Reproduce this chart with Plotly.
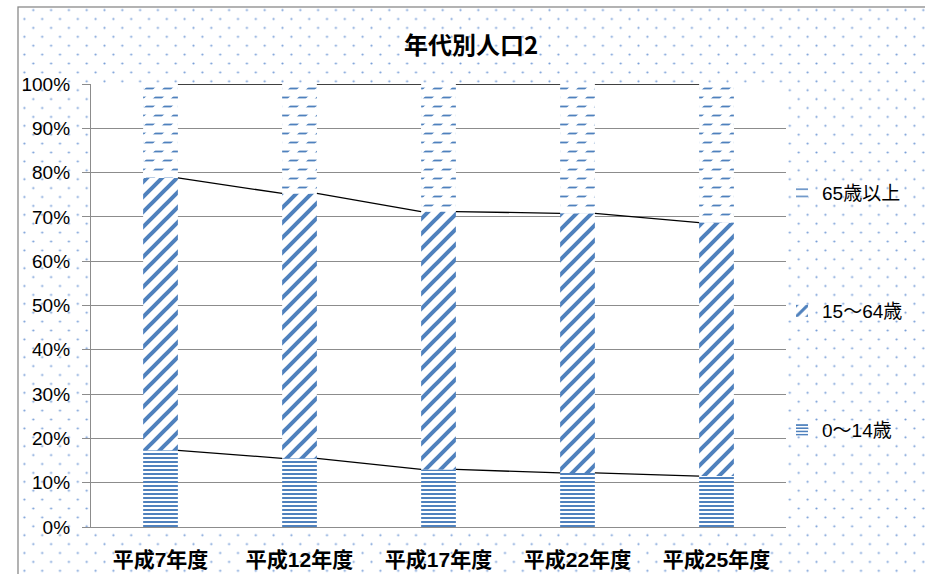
import base64
import math
import plotly.graph_objects as go

# ---- data -------------------------------------------------------------
years = ["平成7年度", "平成12年度", "平成17年度", "平成22年度", "平成25年度"]
series_names = ["0～14歳", "15～64歳", "65歳以上"]
age_0_14 = [0.173, 0.155, 0.130, 0.122, 0.115]
age_15_64 = [0.615, 0.598, 0.582, 0.586, 0.572]
age_65_up = [0.212, 0.247, 0.288, 0.292, 0.313]
y_ticks = [0.0, 0.1, 0.2, 0.3, 0.4, 0.5, 0.6, 0.7, 0.8, 0.9, 1.0]

# ---- geometry / style ------------------------------------------------
W, H = 925, 574
ML, MR, MT, MB = 91, 139, 84, 47
PW, PH = W - ML - MR, H - MT - MB
BARGAP = 0.75
BLUE = "#4f81bd"
GRID = "#8c8c8c"
FONT = "Liberation Sans, Noto Sans CJK JP, sans-serif"


def px_x(px):
    return (px - ML) / PW


def px_y(py):
    return (H - MB - py) / PH


# dotted chart-area background with its grey frame
bg_svg = f"""<svg xmlns='http://www.w3.org/2000/svg' width='{W}' height='{H}' viewBox='0 0 {W} {H}'>
<defs><pattern id='d' patternUnits='userSpaceOnUse' x='19.95' y='14.55' width='17.8' height='17.8'>
<circle cx='4.45' cy='4.45' r='1.1' fill='#7aa0d8'/><circle cx='13.35' cy='13.35' r='1.1' fill='#7aa0d8'/>
</pattern></defs>
<rect width='{W}' height='{H}' fill='white'/>
<rect x='18' y='7' width='{W}' height='{H}' fill='url(#d)' stroke='#8a8a8a' stroke-width='1.3'/>
</svg>"""
bg_uri = "data:image/svg+xml;base64," + base64.b64encode(bg_svg.encode()).decode()

base_15_64 = age_0_14
base_65_up = [a + b for a, b in zip(age_0_14, age_15_64)]
totals = [a + b for a, b in zip(base_65_up, age_65_up)]


def hatch(shape, size, solidity, fg=BLUE, bg="white"):
    return dict(shape=shape, fgcolor=fg, bgcolor=bg, fgopacity=1,
                size=size, solidity=solidity, fillmode="replace")


fig = go.Figure()

fig.add_bar(
    x=years, y=age_0_14, base=[0] * len(years), name=series_names[0], legend="legend3",
    marker=dict(color=BLUE, opacity=1, line_width=0, pattern=hatch("-", 4, 0.5)),
)
fig.add_bar(
    x=years, y=age_15_64, base=base_15_64, name=series_names[1], legend="legend2",
    marker=dict(color=BLUE, opacity=1, line_width=0,
                pattern=hatch("/", 15 / math.sqrt(2), 0.38)),
)
fig.add_bar(
    x=years, y=age_65_up, base=base_65_up, name=series_names[2], legend="legend",
    marker=dict(color=BLUE, opacity=1, line_width=0, pattern=hatch("-", 9, 0.2)),
)
# white diagonal cut that turns the 65+ lines into staggered dashes
fig.add_bar(
    x=years, y=age_65_up, base=base_65_up, showlegend=False, hoverinfo="skip",
    marker=dict(color="white", opacity=1, line_width=0,
                pattern=hatch("/", 18 / math.sqrt(2), 0.5, fg="white", bg="rgba(0,0,0,0)")),
)

# series lines joining the segment tops of neighbouring bars
half = (1 - BARGAP) / 2
lx, ly = [], []
for level in (age_0_14, base_65_up, totals):
    for i in range(len(years) - 1):
        lx += [i + half, i + 1 - half, None]
        ly += [level[i], level[i + 1], None]
fig.add_scatter(x=lx, y=ly, xaxis="x2", mode="lines", showlegend=False, hoverinfo="skip",
                line=dict(color="black", width=1.3), cliponaxis=False)

legend_common = dict(xanchor="left", yanchor="middle", bgcolor="rgba(0,0,0,0)",
                     font=dict(family=FONT, size=19, color="black"), itemwidth=30)

fig.update_layout(
    width=W, height=H,
    margin=dict(l=ML, r=MR, t=MT, b=MB, pad=0, autoexpand=False),
    paper_bgcolor="white", plot_bgcolor="white",
    barmode="overlay", bargap=BARGAP,
    title=dict(text="年代別人口2", x=471 / W, xref="container", xanchor="center",
               y=1 - 46 / H, yref="container", yanchor="middle",
               font=dict(family="Noto Sans CJK JP", size=24, color="black", weight="bold")),
    xaxis=dict(type="category", showgrid=False, showline=True, linecolor=GRID, linewidth=1.3,
               ticks="", ticklabelstandoff=14, automargin=False,
               tickfont=dict(family=FONT, size=21, color="black", weight="bold")),
    xaxis2=dict(overlaying="x", range=[-0.5, len(years) - 0.5], visible=False),
    yaxis=dict(range=[0, 1], tickvals=y_ticks, tickformat=".0%", showgrid=True,
               gridcolor=GRID, gridwidth=1.3, zeroline=False, showline=True,
               linecolor=GRID, linewidth=1.3, ticks="outside", ticklen=8, tickwidth=1.3,
               tickcolor=GRID, ticklabelstandoff=8, automargin=False,
               tickfont=dict(family=FONT, size=19, color="black")),
    legend=dict(x=px_x(782), y=px_y(193), **legend_common),
    legend2=dict(x=px_x(782), y=px_y(311), **legend_common),
    legend3=dict(x=px_x(782), y=px_y(430), **legend_common),
    images=[dict(source=bg_uri, xref="paper", yref="paper", x=-ML / PW, y=1 + MT / PH,
                 sizex=W / PW, sizey=H / PH, xanchor="left", yanchor="top",
                 sizing="stretch", layer="below")],
    shapes=[dict(type="rect", xref="paper", yref="paper", x0=0, x1=1, y0=0, y1=1,
                 fillcolor="white", line_width=0, layer="below")],
    showlegend=True,
)

fig.write_html("out.html")
